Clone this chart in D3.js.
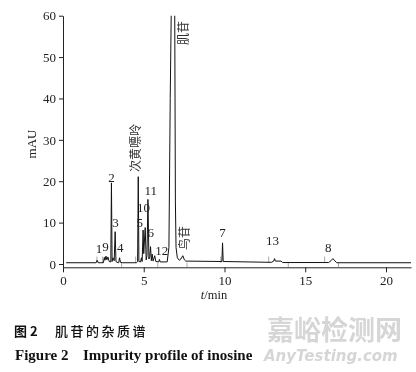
<!DOCTYPE html>
<html>
<head>
<meta charset="utf-8">
<script src="https://cdn.jsdelivr.net/npm/d3@7"></script>
<style>
  body { margin: 0; background: #fff; }
  svg { transform: translateZ(0); }
</style>
</head>
<body>
<div id="chart"></div>
<script>
// data
const xTicks = [0, 5, 10, 15, 20]
const yTicks = [0, 10, 20, 30, 40, 50, 60]

// chromatogram trace [min, mAU]
const trace = [
  [0.2, 0.3], [2.05, 0.3], [2.12, 0.9], [2.18, 0.3],
  [2.5, 0.3], [2.56, 1.6], [2.6, 0.9], [2.66, 1.9], [2.72, 1.0], [2.78, 1.7], [2.86, 0.6],
  [2.96, 0.5], [3.0, 19.6], [3.04, 0.6],
  [3.1, 1.5], [3.17, 0.8], [3.23, 7.8], [3.28, 0.6],
  [3.35, 0.4], [3.45, 0.3], [3.5, 1.5], [3.56, 0.4],
  [3.7, 0.3], [4.55, 0.3], [4.62, 0.6], [4.66, 21.1], [4.7, 0.6],
  [4.8, 0.5], [4.86, 1.5], [4.9, 0.6], [4.96, 8.2], [5.0, 2.5], [5.09, 8.8], [5.15, 1.0],
  [5.2, 2.0], [5.26, 15.6], [5.32, 1.2], [5.37, 1.8], [5.42, 4.2], [5.47, 0.8],
  [5.52, 2.4], [5.58, 0.7], [5.68, 2.0], [5.75, 0.6], [5.93, 0.5], [5.97, 1.1], [6.02, 0.5],
  [6.45, 0.5], [6.56, 4], [6.64, 40], [6.7, 60], [6.75, 300], [6.88, 300], [6.92, 60],
  [6.96, 15], [7.0, 4], [7.08, 1.5], [7.2, 0.9], [7.3, 1.2], [7.42, 2.0], [7.52, 1.0],
  [7.6, 0.7], [9.84, 0.6], [9.88, 5.1], [9.92, 0.6],
  [12.9, 0.4], [13.05, 0.7], [13.1, 1.3], [13.15, 0.7], [13.5, 0.7], [13.6, 0.35],
  [16.45, 0.35], [16.6, 0.8], [16.71, 1.3], [16.85, 0.7], [16.95, 0.3], [21.55, 0.3],
]

// peak numbers [label, min, mAU]
const peakLabels = [
  ['1', 2.23, 2.7], ['9', 2.63, 3.1], ['2', 3.0, 19.9], ['3', 3.25, 8.9],
  ['4', 3.55, 3.0], ['5', 4.76, 8.9], ['10', 4.99, 12.6], ['11', 5.44, 16.7],
  ['6', 5.44, 6.6], ['12', 6.12, 2.2], ['7', 9.87, 6.6], ['13', 12.97, 4.6],
  ['8', 16.43, 3.0],
]

// named peaks [label, min, mAU at text start]
const nameLabels = [['次黄嘌呤', 4.45, 22.2], ['肌苷', 7.42, 52.9], ['鸟苷', 7.46, 3.4]]

// integration event marks (min)
const marksUp = [2.1, 2.45, 4.5, 9.77, 12.74, 16.2]
const marksDown = [3.63, 5.87, 7.68, 13.95, 17.06]

// fonts
const serif = "'Liberation Serif', 'Times New Roman', serif"
const cjk = "'Noto Sans CJK SC', sans-serif"

// size
const W = 416
const H = 372

// scale
const x = d3.scaleLinear().domain([0, 21.55]).range([63, 411])
const y = d3.scaleLinear().domain([-0.8, 60]).range([267.3, 15.7])

const svg = d3.select('#chart').append('svg')
  .attr('width', W)
  .attr('height', H)
  .attr('font-family', serif)

svg.append('defs').append('clipPath').attr('id', 'plot-clip')
  .append('rect')
  .attr('x', x(0))
  .attr('y', y(60))
  .attr('width', x(21.55) - x(0))
  .attr('height', y(-0.8) - y(60))

const plot = svg.append('g').attr('clip-path', 'url(#plot-clip)')

// event marks
plot.selectAll('line.up').data(marksUp).enter().append('line')
  .attr('x1', d => x(d)).attr('x2', d => x(d))
  .attr('y1', y(0.3)).attr('y2', y(1.8))
  .attr('stroke', '#aaa').attr('stroke-width', 1)
plot.selectAll('line.down').data(marksDown).enter().append('line')
  .attr('x1', d => x(d)).attr('x2', d => x(d))
  .attr('y1', y(0.3)).attr('y2', y(-0.8))
  .attr('stroke', '#aaa').attr('stroke-width', 1)

// trace
plot.append('path')
  .datum(trace)
  .attr('fill', 'none')
  .attr('stroke', '#111')
  .attr('stroke-width', 1)
  .attr('d', d3.line().x(d => x(d[0])).y(d => y(d[1])))

// x-axis
svg.append('g')
  .attr('transform', `translate(0, ${y(-0.8)})`)
  .call(d3.axisBottom(x).tickValues(xTicks).tickSize(5).tickSizeOuter(0).tickPadding(3))
// y-axis
svg.append('g')
  .attr('transform', `translate(${x(0)}, 0)`)
  .call(d3.axisLeft(y).tickValues(yTicks).tickSize(4).tickSizeOuter(0).tickPadding(3))

svg.selectAll('.tick text')
  .attr('font-family', serif)
  .attr('font-size', 13)
  .attr('fill', '#222')
svg.selectAll('.domain, .tick line').attr('stroke', '#222')

// axis titles
svg.append('text')
  .attr('transform', 'translate(36, 144) rotate(-90)')
  .attr('text-anchor', 'middle')
  .attr('font-size', 13)
  .attr('fill', '#222')
  .text('mAU')

const xt = svg.append('text')
  .attr('x', 214).attr('y', 299)
  .attr('text-anchor', 'middle')
  .attr('font-size', 12.5)
  .attr('fill', '#222')
xt.append('tspan').attr('font-style', 'italic').text('t')
xt.append('tspan').text('/min')

// peak numbers
svg.selectAll('text.peak').data(peakLabels).enter().append('text')
  .attr('class', 'peak')
  .attr('x', d => x(d[1]))
  .attr('y', d => y(d[2]))
  .attr('text-anchor', 'middle')
  .attr('font-size', 13)
  .attr('fill', '#222')
  .text(d => d[0])

// named peaks
svg.selectAll('text.name').data(nameLabels).enter().append('text')
  .attr('class', 'name')
  .attr('transform', d => `translate(${x(d[1])}, ${y(d[2])}) rotate(-90)`)
  .attr('dominant-baseline', 'central')
  .attr('font-family', cjk)
  .attr('font-size', 12)
  .attr('fill', '#333')
  .text(d => d[0])

// caption
const cap = svg.append('text')
  .attr('x', 14).attr('y', 336)
  .attr('font-family', cjk)
  .attr('font-size', 13)
  .attr('fill', '#111')
cap.append('tspan').attr('font-weight', 'bold').text('图 2')
cap.append('tspan').attr('x', 55).attr('letter-spacing', 2.5).attr('font-weight', 500).text('肌苷的杂质谱')

const capEn = svg.append('text')
  .attr('x', 15).attr('y', 360)
  .attr('font-size', 15)
  .attr('font-weight', 'bold')
  .attr('fill', '#111')
capEn.append('tspan').text('Figure 2')
capEn.append('tspan').attr('x', 83).text('Impurity profile of inosine')

// watermark
svg.append('text')
  .attr('x', 267).attr('y', 340)
  .attr('font-family', cjk)
  .attr('font-size', 27)
  .attr('font-weight', 'bold')
  .attr('fill', '#d6d6d6')
  .text('嘉峪检测网')
svg.append('text')
  .attr('x', 264).attr('y', 361)
  .attr('font-family', "'DejaVu Sans', sans-serif")
  .attr('font-size', 15)
  .attr('font-weight', 'bold')
  .attr('font-style', 'italic')
  .attr('fill', '#d6d6d6')
  .text('AnyTesting.com')
</script>
</body>
</html>
